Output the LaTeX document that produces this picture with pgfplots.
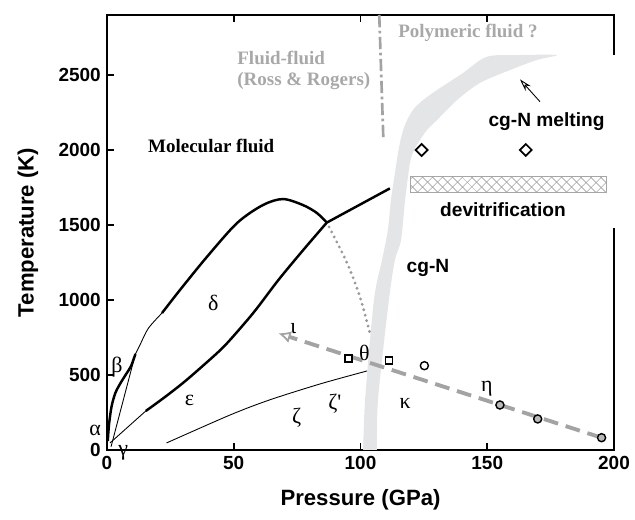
\documentclass[border=0pt]{standalone}
\usepackage{pgfplots}
\pgfplotsset{compat=1.18}
\usepackage{fontspec}
\setmainfont{Liberation Sans}
\newfontfamily\serif{Liberation Serif}
\usetikzlibrary{arrows.meta,patterns.meta}
\definecolor{band}{HTML}{E4E5E7}
\definecolor{dashgray}{HTML}{A3A3A3}
\definecolor{txtgray}{HTML}{A8A8A8}

\begin{document}
\begin{tikzpicture}
\useasboundingbox (-2.14,-1.4) rectangle (10.56,9.0);
\begin{axis}[
  scale only axis, width=10.14cm, height=8.7cm,
  xmin=0, xmax=200, ymin=0, ymax=2900,
  xtick={0,50,...,200}, ytick={0,500,...,2500},
  tick align=inside, major tick length=4pt,
  xtick pos=both, ytick pos=left,
  axis line style={line width=1.1pt},
  every tick/.style={black, line width=1pt},
  tick label style={font=\bfseries\fontsize{10.8}{12}\selectfont},
  /pgf/number format/assume math mode=true,
  /pgf/number format/1000 sep={},
  xlabel={Pressure (GPa)}, ylabel={Temperature (K)},
  label style={font=\bfseries\fontsize{12.6}{14}\selectfont},
  xlabel style={at={(axis description cs:0.5,-0.115)}, anchor=center},
  ylabel style={at={(axis description cs:-0.156,0.5)}, anchor=center},
  clip mode=individual,
]
% cg-N transition band
\addplot[fill=band, draw=none, smooth, tension=0.5] coordinates {(101,-50) (101.8,333)
  (105.3,1000) (108.5,1267) (110.8,1467) (112,1667) (113.6,1847) (114.6,1960)
  (115.8,2067) (117.6,2170) (120.7,2267) (124.7,2333) (130.2,2400) (140.4,2513)
  (149.9,2622) (163,2633) (177.5,2633) (169.6,2600) (159,2533) (147.1,2447)
  (138.1,2333) (130.2,2200) (126.2,2133) (123.5,2067) (121.1,2000) (119.5,1913)
  (117.6,1667) (116,1400) (113.6,1267) (111.2,1000) (106.9,333) (106.5,-50)} -- cycle;
% fluid-fluid line
\addplot[color=dashgray, line width=1.5pt, dash pattern=on 7pt off 2pt on 1.5pt off 2pt]
  coordinates {(107.4,2900) (109,2080)};
% phase boundaries
\addplot[line width=1.4pt, smooth] coordinates {(21.7,913) (28.8,1067) (39.4,1287)
  (51.3,1513) (61.5,1633) (69.4,1673) (77.3,1633) (82.8,1580) (86.7,1516)};
\addplot[line width=1.4pt] coordinates {(86.7,1516) (111.6,1744)};
\addplot[line width=1.4pt, smooth] coordinates {(15.3,260) (23,355) (31.4,467)
  (43.3,644) (48.5,733) (58,920) (67.6,1133) (77,1325) (86.7,1516)};
\addplot[line width=1.4pt, smooth] coordinates {(0.3,60) (0.8,170) (1.8,290)
  (3.3,380) (5.3,445) (7.5,505) (9.5,560) (11.2,640)};
\addplot[line width=0.5pt] coordinates {(1.2,47) (15.3,260)};
\addplot[line width=0.5pt] coordinates {(1.6,22) (11.2,640)};
\addplot[line width=0.5pt, smooth] coordinates {(11.2,640) (13,700) (16.3,811) (21.7,913)};
\addplot[line width=0.5pt, smooth] coordinates {(23.5,47) (48.5,233) (64,333)
  (84,440) (102.6,527)};
\addplot[color=gray!80, line width=1.8pt, dash pattern=on 0pt off 3.2pt,
  line cap=round, smooth] coordinates {(87.6,1487) (94.7,1247) (99.8,1020) (103.7,780)};
% eta-iota line
\addplot[color=dashgray, line width=2.2pt, dash pattern=on 8.5pt off 4.5pt,
  -{Latex[open, length=7pt, width=7pt, line width=1pt, fill=white]}]
  coordinates {(195.1,82) (67.6,778)};
% devitrification
\addplot[draw=gray!70, line width=0.5pt,
  pattern={Hatch[angle=45, distance=4pt, line width=0.4pt]}, pattern color=gray!70]
  coordinates {(119.8,1718) (197,1718) (197,1822) (119.8,1822)} -- cycle;
% data points
\addplot[only marks, mark=square*, mark size=2pt,
  mark options={fill=white, draw=black, line width=0.8pt}]
  coordinates {(95.2,611) (111.2,596)};
\addplot[only marks, mark=*, mark size=2.3pt,
  mark options={fill=white, draw=black, line width=0.8pt}]
  coordinates {(125.2,562)};
\addplot[only marks, mark=*, mark size=2.3pt,
  mark options={fill=gray!55, draw=black, line width=0.8pt}]
  coordinates {(155,300) (169.9,207) (195.1,82)};
\addplot[only marks, mark=square*, mark size=2.4pt,
  mark options={rotate=45, fill=white, draw=black, line width=1pt}]
  coordinates {(124.1,2000) (165.2,2000)};
% hide right frame behind label area
\draw[white, line width=2.5pt] (axis cs:200,2630) -- (axis cs:200,1480);
% labels
\node[font=\serif\bfseries\fontsize{10.8}{12}\selectfont, anchor=west]
  at (axis cs:13.8,2027) {Molecular fluid};
\node[font=\serif\bfseries\fontsize{10.8}{12}\selectfont, text=txtgray, anchor=west,
  align=left, inner sep=0pt] at (axis cs:51.3,2533) {Fluid-fluid\\(Ross \& Rogers)};
\node[font=\serif\bfseries\fontsize{10.8}{12}\selectfont, text=txtgray, anchor=west,
  inner sep=0pt] at (axis cs:114.8,2780) {Polymeric fluid ?};
\node[font=\bfseries\fontsize{10.9}{12}\selectfont] at (axis cs:173.4,2187) {cg-N melting};
\node[font=\bfseries\fontsize{10.9}{12}\selectfont] at (axis cs:156.2,1600) {devitrification};
\node[font=\bfseries\fontsize{10.9}{12}\selectfont] at (axis cs:126.6,1213) {cg-N};
\draw[-{Stealth[open, length=7pt, width=4pt]}, line width=0.5pt]
  (axis cs:170.8,2322) -- (axis cs:162.9,2471);
\begin{scope}[every node/.style={font=\serif\fontsize{12.5}{14}\selectfont}]
\node at (axis cs:3.9,555) {β};
\node at (axis cs:41.9,978) {δ};
\node at (axis cs:32.5,333) {ε};
\node at (axis cs:74.8,215) {ζ};
\node at (axis cs:89.9,311) {ζ'};
\node at (axis cs:117.6,311) {κ};
\node at (axis cs:101.5,644) {θ};
\node at (axis cs:73.5,811) {ι};
\node at (axis cs:149.8,411) {η};
\node[inner sep=0pt] at (axis cs:-4.7,130) {α};
\node at (axis cs:6.4,-22) {γ};
\end{scope}
\end{axis}
\end{tikzpicture}
\end{document}
